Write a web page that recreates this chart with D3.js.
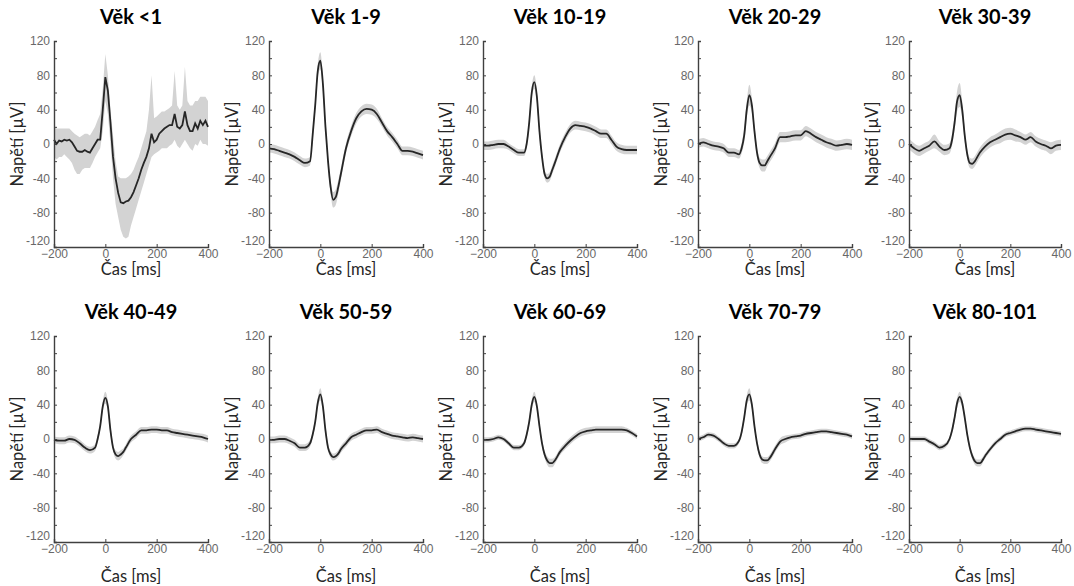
<!DOCTYPE html>
<html>
<head>
<meta charset="utf-8">
<script src="https://cdn.jsdelivr.net/npm/d3@7"></script>
<style>
  body { margin: 0; background: #fff; }
  .tick text { font-family: "Liberation Sans", Arial, sans-serif; font-size: 12px; fill: #686868; }
  .title { font-family: Lato, "Open Sans", sans-serif; font-weight: bold; font-size: 20px; fill: #000; }
  .axlabel { font-family: Lato, "Open Sans", sans-serif; font-size: 16.5px; fill: #262626; }
</style>
</head>
<body>
<svg id="chart" width="1074" height="586"></svg>
<script>

// panel titles, row by row
var titles = ["Věk <1", "Věk 1-9", "Věk 10-19", "Věk 20-29", "Věk 30-39",
              "Věk 40-49", "Věk 50-59", "Věk 60-69", "Věk 70-79", "Věk 80-101"];

var xTicks = [-200, 0, 200, 400];
var yTickLabels = [-120, -80, -40, 0, 40, 80, 120];

// infants: 10 ms grid, noisy, with explicit band edges
var tInfant = d3.range(-200, 401, 10);
var meanInfant = [5, 0, 4, 3, 5, 4, 5, 2, -3, -8, -9, -9, -7, -9, -10, -5, 0, 5, 5, 40,
                  78, 62, 25, -15, -40, -57, -68, -69, -67, -66, -62, -56, -48, -40, -30, -22, -15, -5, 12, 2,
                  5, 12, 15, 18, 20, 22, 22, 35, 20, 18, 22, 38, 22, 15, 15, 24, 18, 27, 22, 27, 20];
var hiInfant = [20, 18, 18, 18, 18, 18, 18, 15, 12, 10, 8, 10, 12, 12, 10, 15, 20, 28, 35, 65,
                105, 80, 40, 10, -20, -38, -40, -40, -40, -38, -35, -30, -22, -15, -5, 5, 15, 40, 80, 30,
                32, 35, 38, 38, 40, 42, 45, 85, 45, 40, 45, 90, 50, 45, 45, 50, 50, 55, 55, 55, 50];
var loInfant = [-15, -18, -15, -15, -12, -15, -18, -22, -30, -35, -35, -30, -28, -28, -28, -22, -15, -10, -5, 15,
                50, 35, 0, -40, -70, -85, -100, -108, -110, -108, -95, -85, -75, -65, -55, -45, -35, -25, -15, -12,
                -10, -8, -5, -5, -5, -2, 0, 5, -2, -5, 0, 5, 0, -5, -8, 0, -2, 5, 0, 0, -2];

// other age groups share one time grid (denser round the peak)
var tGrid = [-200, -180, -160, -140, -120, -100, -80, -60, -40, -30, -20, -10, 0, 10, 20, 30, 40, 50, 60, 70, 80,
             100, 120, 140, 160, 180, 200, 220, 240, 260, 280, 300, 320, 340, 360, 380, 400];

var mean1_9   = [-5, -6, -8, -10, -12, -15, -19, -22, -20, 10, 45, 85, 97, 70, 20, -20, -50, -65, -62, -50, -35,
                 -5, 15, 30, 38, 41, 40, 35, 25, 15, 8, 0, -8, -8, -9, -11, -13];
var mean10_19 = [-2, -2, -1, 0, 0, -3, -7, -10, -10, 0, 25, 60, 72, 55, 15, -15, -35, -40, -38, -30, -22,
                 -5, 8, 18, 22, 21, 20, 18, 15, 12, 12, 5, -3, -6, -7, -7, -7];
var mean20_29 = [0, 2, 0, -2, -3, -5, -10, -10, -12, -5, 10, 40, 57, 45, 15, -10, -22, -25, -25, -20, -15,
                 -5, 8, 8, 9, 10, 10, 15, 12, 8, 5, 2, 0, -2, -1, 0, -1];
var mean30_39 = [0, -5, -8, -5, -2, 3, -3, -7, -5, 5, 25, 50, 57, 40, 10, -12, -22, -23, -20, -15, -10,
                 -3, 2, 5, 8, 11, 12, 10, 8, 5, 8, 3, 0, -2, -5, -2, -1];
var mean40_49 = [-1, -2, -2, 0, -1, -5, -10, -13, -10, 0, 15, 38, 48, 38, 10, -10, -18, -20, -18, -15, -10,
                 0, 5, 10, 10, 11, 11, 10, 10, 8, 7, 6, 5, 4, 3, 2, 0];
var mean50_59 = [-1, -1, 0, 0, -2, -5, -10, -10, -5, 5, 20, 42, 52, 38, 10, -10, -18, -21, -20, -17, -12,
                 -5, 2, 5, 8, 10, 10, 11, 8, 6, 4, 3, 2, 1, 2, 1, 0];
var mean60_69 = [-1, -1, 0, 2, 0, -5, -10, -10, -5, 5, 20, 40, 49, 38, 15, -5, -18, -25, -28, -28, -25,
                 -15, -8, -2, 3, 7, 9, 10, 11, 11, 11, 11, 11, 11, 10, 7, 3];
var mean70_79 = [0, 2, 5, 4, 0, -5, -8, -8, -2, 8, 25, 45, 52, 40, 15, -5, -18, -24, -25, -25, -22,
                 -12, -3, 0, 2, 3, 4, 6, 7, 8, 9, 9, 8, 7, 6, 5, 3];
var mean80_101 = [0, 0, 0, 0, -3, -6, -10, -8, 0, 10, 25, 42, 49, 42, 25, 5, -10, -20, -26, -28, -28,
                  -20, -12, -5, 0, 5, 7, 9, 11, 12, 12, 11, 10, 9, 8, 7, 6];

// half-width of the grey band
var spread1_9   = [5, 5, 5, 5, 5, 5, 5, 5, 5, 6, 7, 8, 10, 8, 7, 7, 8, 9, 9, 8, 7,
                   6, 6, 6, 6, 6, 6, 6, 5, 5, 5, 5, 5, 5, 5, 5, 5];
var spread10_19 = [5, 5, 5, 5, 5, 4, 4, 4, 4, 5, 6, 7, 8, 7, 6, 5, 5, 5, 5, 5, 5,
                   5, 5, 5, 5, 5, 5, 5, 5, 5, 5, 5, 5, 5, 5, 5, 5];
var spread20_29 = [5, 5, 5, 5, 5, 5, 5, 5, 5, 6, 8, 10, 12, 9, 7, 6, 6, 7, 7, 6, 6,
                   6, 6, 6, 6, 6, 6, 6, 6, 6, 6, 6, 6, 6, 6, 6, 6];
var spread30_39 = [6, 6, 6, 6, 6, 8, 6, 6, 6, 7, 9, 12, 14, 10, 7, 6, 6, 6, 6, 6, 6,
                   6, 6, 6, 7, 7, 7, 7, 6, 6, 6, 6, 6, 6, 7, 6, 6];
var spread40_49 = [4, 4, 4, 4, 4, 4, 4, 4, 4, 4, 5, 6, 7, 6, 5, 4, 5, 5, 5, 4, 4,
                   4, 4, 4, 4, 4, 4, 4, 4, 4, 4, 4, 4, 4, 4, 4, 4];
var spread50_59 = [4, 4, 4, 4, 4, 4, 4, 4, 4, 4, 5, 6, 7, 6, 5, 4, 4, 4, 4, 4, 4,
                   4, 4, 4, 4, 4, 4, 4, 4, 4, 4, 4, 4, 4, 4, 4, 4];
var spread60_69 = [3, 3, 3, 3, 3, 3, 3, 3, 3, 4, 5, 6, 6, 5, 4, 4, 4, 5, 5, 5, 4,
                   4, 4, 4, 4, 4, 4, 4, 4, 4, 4, 4, 4, 4, 3, 3, 3];
var spread70_79 = [3, 3, 3, 3, 3, 3, 3, 3, 3, 4, 5, 6, 7, 5, 4, 4, 4, 4, 4, 4, 4,
                   4, 4, 4, 3, 3, 3, 3, 3, 3, 3, 3, 3, 3, 3, 3, 3];
var spread80_101 = [3, 3, 3, 3, 3, 3, 3, 3, 3, 4, 5, 6, 6, 5, 4, 4, 4, 4, 4, 4, 4,
                    3, 3, 3, 3, 3, 3, 3, 3, 3, 3, 3, 3, 3, 3, 3, 3];

var means = [mean1_9, mean10_19, mean20_29, mean30_39, mean40_49, mean50_59, mean60_69, mean70_79, mean80_101];
var spreads = [spread1_9, spread10_19, spread20_29, spread30_39, spread40_49, spread50_59, spread60_69, spread70_79, spread80_101];


function panelData(i) {
  if (i == 0) {
    return tInfant.map(function(t, k) {
      return { t: t, m: meanInfant[k], lo: loInfant[k], hi: hiInfant[k] };
    });
  }
  var m = means[i - 1], s = spreads[i - 1];
  return tGrid.map(function(t, k) {
    return { t: t, m: m[k], lo: m[k] - s[k], hi: m[k] + s[k] };
  });
}


function drawPanel(svg, i) {
  var row = Math.floor(i / 5), col = i % 5;
  var left = [54, 269, 483, 698, 909][col];
  var top = row == 0 ? 41 : 336;
  var w = col == 4 ? 152 : 154, h = 206;

  var x = d3.scaleLinear().domain([-200, 400]).range([0, w]);
  var y = d3.scaleLinear().domain([-120, 120]).range([h, 0]);
  var data = panelData(i);
  var curve = i == 0 ? d3.curveLinear : d3.curveMonotoneX;

  var g = svg.append("g").attr("transform", "translate(" + left + "," + top + ")");

  g.append("path")
    .datum(data)
    .attr("fill", "#d3d3d3")
    .attr("d", d3.area().curve(curve)
      .x(function(d) { return x(d.t); })
      .y0(function(d) { return y(d.lo); })
      .y1(function(d) { return y(d.hi); }));

  g.append("path")
    .datum(data)
    .attr("fill", "none")
    .attr("stroke", "#262626")
    .attr("stroke-width", 1.8)
    .attr("d", d3.line().curve(curve)
      .x(function(d) { return x(d.t); })
      .y(function(d) { return y(d.m); }));

  // minor ticks every 20 on y, labels every 40
  var yAxis = d3.axisLeft(y).tickValues(d3.range(-120, 121, 20))
    .tickSize(-3).tickPadding(4)
    .tickFormat(function(d) { return yTickLabels.indexOf(d) >= 0 ? d : ""; });
  var xAxis = d3.axisBottom(x).tickValues(xTicks).tickSize(-3).tickPadding(2);

  var ya = g.append("g").call(yAxis);
  var xa = g.append("g").attr("transform", "translate(0," + h + ")").call(xAxis);
  [ya, xa].forEach(function(a) {
    a.select(".domain").attr("stroke", "#404040").attr("stroke-width", 1.4);
    a.selectAll(".tick line").attr("stroke", "#404040");
  });
  // the lowest y label sits above the x labels, as in the original
  ya.selectAll(".tick text").filter(function(d) { return d == -120; }).attr("dy", "-0.2em");

  g.append("text").attr("class", "title")
    .attr("x", w / 2).attr("y", -17)
    .attr("text-anchor", "middle")
    .text(titles[i]);

  g.append("text").attr("class", "axlabel")
    .attr("transform", "translate(-31," + (h / 2) + ") rotate(-90)")
    .attr("text-anchor", "middle")
    .text("Napětí [µV]");

  g.append("text").attr("class", "axlabel")
    .attr("x", w / 2).attr("y", row == 0 ? h + 28 : h + 40)
    .attr("text-anchor", "middle")
    .text("Čas [ms]");
}


var svg = d3.select("#chart");
for (var i = 0; i < titles.length; i++) {
  drawPanel(svg, i);
}

</script>
</body>
</html>
